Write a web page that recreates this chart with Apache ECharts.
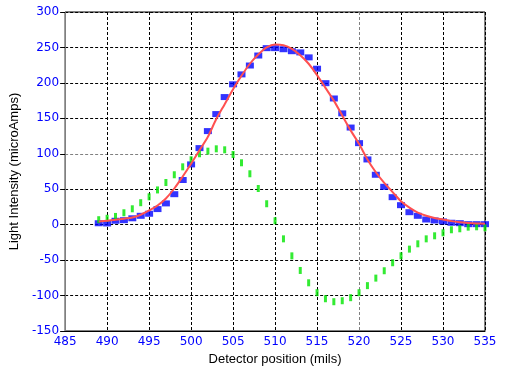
<!DOCTYPE html>
<html>
<head>
<meta charset="utf-8">
<script src="https://cdn.jsdelivr.net/npm/echarts@6/dist/echarts.min.js"></script>
<style>
html,body{margin:0;padding:0;background:#fff;}
#chart{width:507px;height:373px;}
</style>
</head>
<body>
<div id="chart"></div>
<script>
// Detector positions (mils)
const positions = [489,490,491,492,493,494,495,496,497,498,499,500,501,502,503,504,505,506,507,508,509,510,511,512,513,514,515,516,517,518,519,520,521,522,523,524,525,526,527,528,529,530,531,532,533,534,535];
// Measured light intensity (blue squares)
const measured = [2,1.7,5.5,6.3,9,12.5,15.4,22,30,43,63,85,108,132,156,180,198,212,224.5,238.6,249,249,247.5,244.7,243,236,220,199.6,178,157,137,115,92,70.4,53.4,38.8,27.5,17.6,12.5,7.3,5.9,4.5,2.7,2.1,0.7,0.7,0.7];
// Derivative-like signal (green bars)
const derivative = [7,9,11.6,16.8,22.4,31,39.3,49,59.5,70.4,81.6,91.5,100,103.7,107,105.6,99,87.3,71.8,51,29.5,5.5,-20,-44,-64.6,-82,-96,-104.5,-108.7,-107.3,-103,-96,-86,-75.4,-65,-53.7,-43.9,-34.5,-27,-20,-15.7,-11.5,-7.2,-5.8,-3.5,-3,-4.4];
// Fitted curve (red line)
const fitted = [4.5,5.5,7,8.5,10,14,20,27,37,51,68,86,105,124,149,170,191,210,227,240,250,254,253,248,239,227,211,193,175,154,133,114,92,74,59,46,33,24,17,12.5,9.5,7.3,5,3.5,2.5,1.8,1.3];
// Axis ticks
const xMin = 485, xMax = 535, xStep = 5;
const yMin = -150, yMax = 300, yStep = 50;

const pair = (xs, ys) => xs.map((x, i) => [x, ys[i]]);

const yLineColors = ['#000','#000','#000','#000','#000','#808080','#000','#000','#000','#000'];
const xLineColors = ['#000','#000','#000','#000','#000','#000','#000','#808080','#000','#000','#000'];

const chart = echarts.init(document.getElementById('chart'), null, {renderer: 'canvas'});
chart.setOption({
  animation: false,
  backgroundColor: '#fff',
  grid: {left: 58, right: 22, top: 12, bottom: 42, show: true, borderColor: '#000', borderWidth: 1, containLabel: false},
  xAxis: {
    type: 'value', min: xMin, max: xMax, interval: xStep,
    name: 'Detector position (mils)', nameLocation: 'middle', nameGap: 18,
    nameTextStyle: {color: '#000', fontFamily: 'Liberation Sans, Arial', fontSize: 13},
    axisLine: {show: true, onZero: false, lineStyle: {color: '#000', width: 1}},
    axisTick: {show: false},
    axisLabel: {color: '#0000ff', fontFamily: 'DejaVu Sans', fontSize: 12, margin: 5},
    splitLine: {show: true, lineStyle: {color: xLineColors, type: [3, 2], width: 1}}
  },
  yAxis: {
    type: 'value', min: yMin, max: yMax, interval: yStep,
    name: 'Light Intensity (microAmps)', nameLocation: 'middle', nameGap: 34,
    nameTextStyle: {color: '#000', fontFamily: 'Liberation Sans, Arial', fontSize: 13},
    axisLine: {show: true, onZero: false, lineStyle: {color: '#808080', width: 1}},
    axisTick: {show: true, length: 5, lineStyle: {color: '#000'}},
    axisLabel: {color: '#0000ff', fontFamily: 'DejaVu Sans', fontSize: 12, margin: 6},
    splitLine: {show: true, lineStyle: {color: yLineColors, type: [3, 2], width: 1}}
  },
  series: [
    {
      name: 'measured', type: 'scatter', data: pair(positions, measured),
      symbol: 'rect', symbolSize: [8, 6], itemStyle: {color: '#0000ff'}, z: 2
    },
    {
      name: 'derivative', type: 'scatter', data: pair(positions, derivative),
      symbol: 'rect', symbolSize: [3, 7], itemStyle: {color: '#00e600'}, z: 3
    },
    {
      name: 'fit', type: 'line', data: pair(positions, fitted), smooth: 0.3,
      showSymbol: false, lineStyle: {color: '#ff5050', width: 2}, z: 4
    }
  ]
});
</script>
</body>
</html>
